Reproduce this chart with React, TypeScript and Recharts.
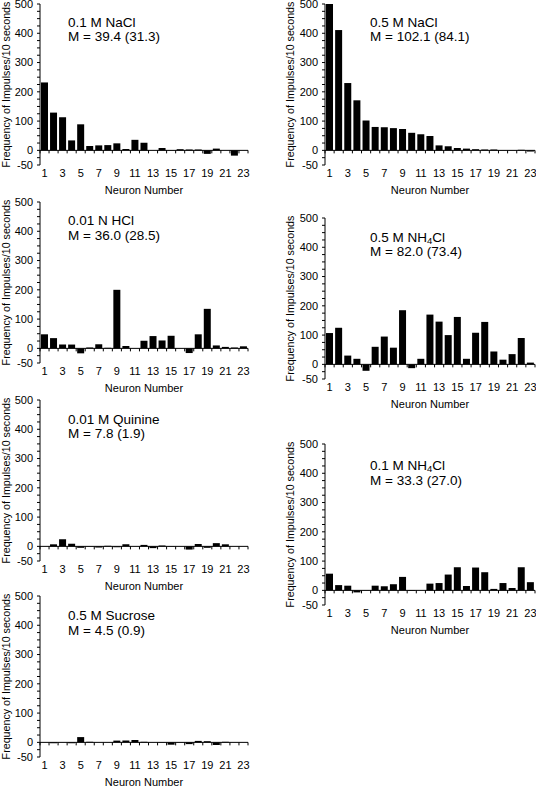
import React from 'react';
import { BarChart, Bar, XAxis, YAxis, ReferenceLine } from 'recharts';

const neurons = [1, 2, 3, 4, 5, 6, 7, 8, 9, 10, 11, 12, 13, 14, 15, 16, 17, 18, 19, 20, 21, 22, 23];

const nacl01Values = [232, 129, 113, 34, 89, 15, 17, 18, 24, 5, 36, 26, 0, 8, 1, 4, 3, 3, -12, 6, 0, -18, 0];
const nacl05Values = [505, 411, 230, 171, 102, 80, 79, 76, 73, 60, 55, 49, 17, 14, 8, 6, 4, 3, 3, 1, 1, 2, -4];
const hclValues = [48, 35, 13, 13, -17, 3, 14, 2, 200, 8, 0, 26, 42, 27, 43, 0, -16, 48, 135, 10, 5, 3, 7];
const nh4cl05Values = [107, 125, 30, 19, -22, 60, 95, 57, 185, -13, 19, 170, 146, 100, 162, 19, 108, 145, 44, 16, 35, 90, 6];
const quinineValues = [0, 7, 24, 9, -5, -1, -4, 2, -3, 7, 0, 5, -6, 3, -1, 0, -11, 8, -5, 11, 7, 0, 0];
const nh4cl01Values = [57, 18, 16, -7, -1, 16, 14, 21, 46, -2, 0, 23, 25, 54, 79, 15, 78, 62, 5, 25, 8, 79, 28];
const sucroseValues = [0, -3, 0, -3, 18, 2, 0, 0, 6, 6, 8, 2, 0, -1, -8, 1, -6, 5, 4, -9, 2, 0, 0];

const yTicks = [-50, -25, 0, 25, 50, 75, 100, 125, 150, 175, 200, 225, 250, 275, 300, 325, 350, 375, 400, 425, 450, 475, 500];
const yTickLabels = [-50, 0, 100, 200, 300, 400, 500];

const yAxisTitle = 'Frequency of Impulses/10 seconds';
const xAxisTitle = 'Neuron Number';

const FONT = '"Liberation Sans", Arial, Helvetica, sans-serif';
const CHART_H = 197;

function ZeroLine(props: any) {
  const { x1, y1, x2, y2 } = props;
  const n = neurons.length;
  const marks = [];
  for (let i = 0; i <= n; i++) {
    const x = x1 + (i * (x2 - x1)) / n;
    marks.push(<line key={i} x1={x} y1={y1} x2={x} y2={y1 + 3} stroke="#000" strokeWidth={1} />);
  }
  return (
    <g>
      <line x1={x1} y1={y1} x2={x2} y2={y2} stroke="#000" strokeWidth={1} />
      {marks}
    </g>
  );
}

function YTick(props: any) {
  const { x, y, payload } = props;
  if (!yTickLabels.includes(payload.value)) return <g />;
  return (
    <text x={x} y={y} dy="0.35em" textAnchor="end" fill="#000" fontSize={11} fontFamily={FONT}>
      {payload.value}
    </text>
  );
}

type PanelProps = {
  left: number;
  top: number;
  width: number;
  yAxisWidth: number;
  marginRight: number;
  values: number[];
  labelX: number;
  titleX: number;
  titleTop: number;
  line1: React.ReactNode;
  line2: string;
};

function Panel(p: PanelProps) {
  const rows = neurons.map((n, i) => ({ n, v: p.values[i] }));
  const yLabel = (lp: any) => {
    const vb = lp.viewBox || {};
    const cx = p.labelX;
    const cy = (vb.y ?? 6) + (vb.height ?? 161) / 2;
    return (
      <text
        x={cx}
        y={cy}
        transform={`rotate(-90 ${cx} ${cy})`}
        textAnchor="middle"
        dominantBaseline="central"
        fill="#000"
        fontSize={10.7}
        fontFamily={FONT}
      >
        {yAxisTitle}
      </text>
    );
  };
  return (
    <div style={{ position: 'absolute', left: p.left, top: p.top - 2, width: p.width, height: CHART_H }}>
      <BarChart
        width={p.width}
        height={CHART_H}
        data={rows}
        margin={{ top: 6, right: p.marginRight, left: 0, bottom: 0 }}
        barCategoryGap="11%"
      >
        <XAxis
          dataKey="n"
          interval={1}
          tickLine={false}
          axisLine={false}
          tickSize={0}
          tickMargin={4}
          height={30}
          tick={{ fill: '#000', fontSize: 11, fontFamily: FONT }}
          label={{ value: xAxisTitle, position: 'insideBottom', offset: 1, fill: '#000', fontSize: 11, fontFamily: FONT }}
        />
        <YAxis
          domain={[-50, 500]}
          ticks={yTicks}
          interval={0}
          allowDataOverflow
          width={p.yAxisWidth}
          tickSize={3}
          tickMargin={4}
          tickLine={{ stroke: '#000' }}
          axisLine={{ stroke: '#000' }}
          tick={YTick}
          label={{ content: yLabel }}
        />
        <Bar dataKey="v" fill="#000" isAnimationActive={false} />
        <ReferenceLine y={0} shape={ZeroLine} />
      </BarChart>
      <div
        style={{
          position: 'absolute',
          left: p.titleX,
          top: p.titleTop + 2,
          fontFamily: FONT,
          fontSize: 13.5,
          lineHeight: '14.5px',
          color: '#000',
          whiteSpace: 'nowrap',
        }}
      >
        <div>{p.line1}</div>
        <div>{p.line2}</div>
      </div>
    </div>
  );
}

const sub4 = <span style={{ fontSize: 9.5, position: 'relative', top: 2, lineHeight: 0 }}>4</span>;

export default function App() {
  const L = { left: 0, width: 250, yAxisWidth: 40, marginRight: 2, labelX: 6, titleX: 68 };
  const R = { left: 268, width: 268, yAxisWidth: 57, marginRight: 1, labelX: 22, titleX: 102 };
  return (
    <div style={{ position: 'absolute', left: 0, top: 0, width: 536, height: 786, background: '#fff', overflow: 'hidden' }}>
      <Panel {...L} top={0} titleTop={15.5} values={nacl01Values} line1="0.1 M NaCl" line2="M = 39.4 (31.3)" />
      <Panel {...L} top={198} titleTop={16} values={hclValues} line1="0.01 N HCl" line2="M = 36.0 (28.5)" />
      <Panel {...L} top={396} titleTop={16.5} values={quinineValues} line1="0.01 M Quinine" line2="M = 7.8 (1.9)" />
      <Panel {...L} top={592} titleTop={17} values={sucroseValues} line1="0.5 M Sucrose" line2="M = 4.5 (0.9)" />
      <Panel {...R} top={0} titleTop={15.5} values={nacl05Values} line1="0.5 M NaCl" line2="M = 102.1 (84.1)" />
      <Panel {...R} top={214} titleTop={16.5} values={nh4cl05Values} line1={<>0.5 M NH{sub4}Cl</>} line2="M = 82.0 (73.4)" />
      <Panel {...R} top={440} titleTop={19} values={nh4cl01Values} line1={<>0.1 M NH{sub4}Cl</>} line2="M = 33.3 (27.0)" />
    </div>
  );
}
